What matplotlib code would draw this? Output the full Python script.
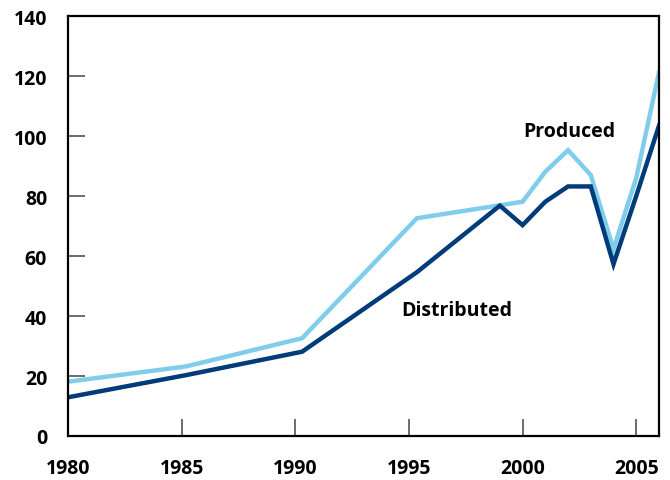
import matplotlib

matplotlib.use("Agg")
import matplotlib.pyplot as plt

# values
prod_years = [1980, 1985.2, 1990.3, 1995.35, 2000, 2001, 2002, 2003, 2004, 2005, 2006]
produced = [18.1, 23.2, 32.6, 72.6, 78.1, 88.1, 95.3, 87.0, 62.3, 86.0, 121.2]

dist_years = [1980, 1985.2, 1990.3, 1995.35, 1999, 2000, 2001, 2002, 2003, 2004, 2005, 2006]
distributed = [12.9, 20.3, 28.1, 54.6, 76.8, 70.3, 78.1, 83.2, 83.2, 57.3, 80.0, 103.4]

x_ticks = [1980, 1985, 1990, 1995, 2000, 2005]
y_ticks = [0, 20, 40, 60, 80, 100, 120, 140]

LIGHT = "#7FCCEB"
DARK = "#003B7A"

plt.rcParams["font.family"] = ["Open Sans", "DejaVu Sans"]

fig = plt.figure(figsize=(6.7, 4.81), dpi=100)
ax = fig.add_axes([0.1015, 0.0915, 0.882, 0.873])

ax.plot(prod_years, produced, color=LIGHT, lw=3.2, solid_joinstyle="miter")
ax.plot(dist_years, distributed, color=DARK, lw=3.2, solid_joinstyle="miter")

ax.set_xlim(1980, 2006)
ax.set_ylim(0, 140)
ax.set_xticks(x_ticks)
ax.set_yticks(y_ticks)
ax.set_xticklabels([str(t) for t in x_ticks], fontsize=14, fontweight="bold")
ax.set_yticklabels([str(t) for t in y_ticks], fontsize=14, fontweight="bold")
ax.tick_params(axis="both", direction="in", length=12, width=1.1, color="#444444")
ax.tick_params(axis="y", pad=15)
ax.tick_params(axis="x", pad=16)

for sp in ax.spines.values():
    sp.set_linewidth(1.6)
    sp.set_color("black")

ax.text(2002.05, 101.8, "Produced", ha="center", va="center",
        fontsize=14, fontweight="bold")
ax.text(1997.1, 42.1, "Distributed", ha="center", va="center",
        fontsize=14, fontweight="bold")

fig.savefig("out.png", dpi=100)
